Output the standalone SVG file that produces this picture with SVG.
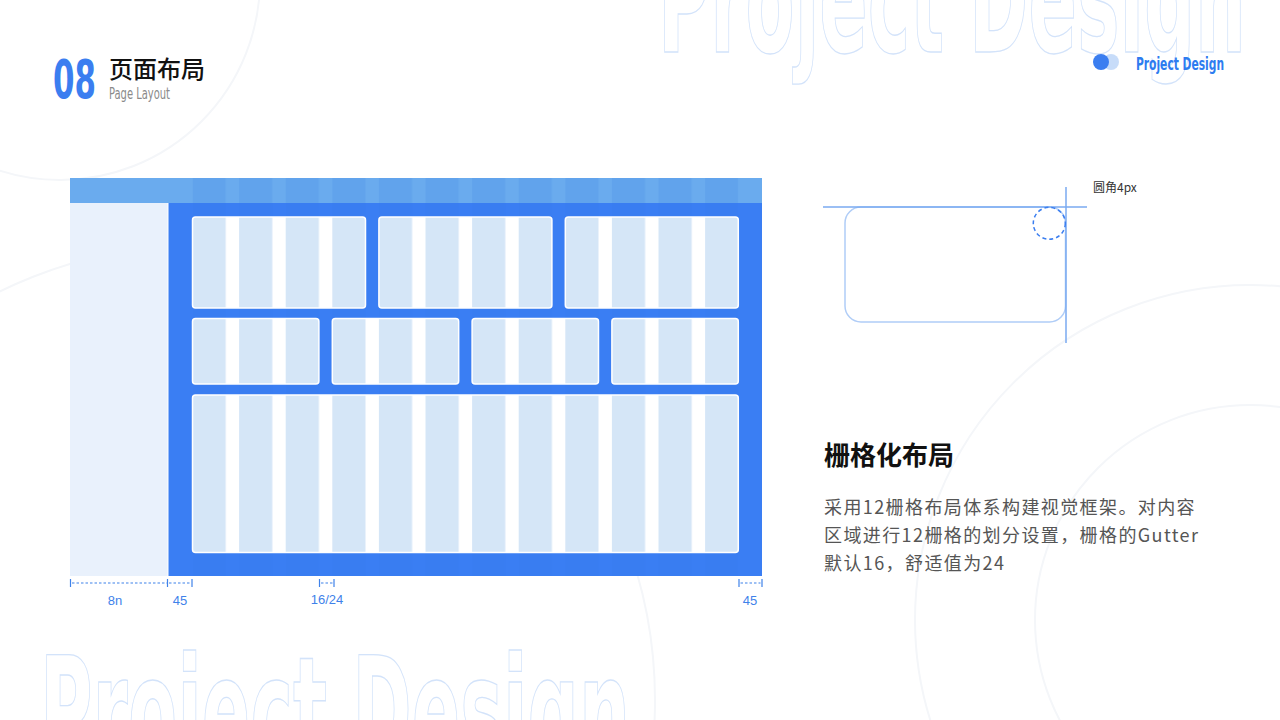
<svg xmlns="http://www.w3.org/2000/svg" width="1280" height="720" viewBox="0 0 1280 720">
<style>
.wm{font-family:"DejaVu Sans Condensed","DejaVu Sans",sans-serif;font-weight:bold;font-size:150px;fill:none;stroke:#d3e3fa;stroke-width:1.3}
.bgc{fill:none;stroke:#f4f6f9;stroke-width:2}
.cn{font-family:"Noto Sans CJK SC",sans-serif}
.dim{font-family:"Liberation Sans",Arial,sans-serif;font-size:13px;fill:#3f82ea;text-anchor:middle}
.tick{stroke:#3f82ea;stroke-width:1.2}
.dash{stroke:#3f82ea;stroke-width:1.2;stroke-dasharray:2.5 2}
.card{fill:url(#cols);stroke:#ffffff;stroke-width:1.5}
</style>
<defs>
<pattern id="cols" patternUnits="userSpaceOnUse" x="192.5" y="0" width="46.6" height="720">
<rect x="0" y="0" width="46.6" height="720" fill="#ffffff"/>
<rect x="0" y="0" width="33.2" height="720" fill="#d5e6f7"/>
</pattern>
<pattern id="barcols" patternUnits="userSpaceOnUse" x="192.5" y="0" width="46.6" height="720">
<rect x="0" y="0" width="33.2" height="720" fill="#4f95e6" fill-opacity="0.35"/>
</pattern>
<pattern id="bluecols" patternUnits="userSpaceOnUse" x="192.5" y="0" width="46.6" height="720">
<rect x="0" y="0" width="33.2" height="720" fill="#2f74e8" fill-opacity="0.12"/>
</pattern>
</defs>
<rect width="1280" height="720" fill="#ffffff"/>
<g id="background">
<circle class="bgc" cx="1250" cy="620" r="335"/>
<circle class="bgc" cx="1250" cy="620" r="215"/>
<circle class="bgc" cx="200" cy="700" r="455"/>
<circle class="bgc" cx="60" cy="-20" r="200"/>
<text class="wm" x="658" y="52" textLength="588" lengthAdjust="spacingAndGlyphs">Project Design</text>
<text class="wm" x="40" y="764" textLength="590" lengthAdjust="spacingAndGlyphs">Project Design</text>
</g>
<g id="header">
<text x="53" y="98" font-family="DejaVu Sans Condensed,DejaVu Sans,sans-serif" font-weight="bold" font-size="54" fill="#3b7ef0" textLength="43" lengthAdjust="spacingAndGlyphs">08</text>
<text class="cn" x="109" y="78" font-size="24" font-weight="500" fill="#111111">页面布局</text>
<text x="109" y="99" font-family="DejaVu Sans Condensed,DejaVu Sans,sans-serif" font-size="15" fill="#8a8a8a" textLength="61" lengthAdjust="spacingAndGlyphs">Page Layout</text>
</g>
<g id="brand">
<circle cx="1111" cy="62" r="8" fill="#b9d3f8" fill-opacity="0.8"/>
<circle cx="1101" cy="62" r="8" fill="#3b7ef0"/>
<text x="1136" y="70" font-family="DejaVu Sans Condensed,DejaVu Sans,sans-serif" font-weight="bold" font-size="17" fill="#2d7cf0" textLength="88" lengthAdjust="spacingAndGlyphs">Project Design</text>
</g>
<g id="grid-frame">
<rect x="70" y="178" width="692" height="25" fill="#6aabee"/>
<rect x="192.5" y="178" width="545.8" height="25" fill="url(#barcols)"/>
<rect x="70" y="203" width="98" height="373" fill="#e9f1fc"/>
<rect x="168" y="203" width="594" height="373" fill="#3a7ef3"/>
<rect x="192.5" y="203" width="545.8" height="373" fill="url(#bluecols)"/>
<line x1="168" y1="203" x2="168" y2="576" stroke="#ffffff" stroke-width="1"/>
</g>
<g id="row1">
<rect class="card" x="192.5" y="217" width="173" height="91" rx="3"/>
<rect class="card" x="378.9" y="217" width="173" height="91" rx="3"/>
<rect class="card" x="565.3" y="217" width="173" height="91" rx="3"/>
</g>
<g id="row2">
<rect class="card" x="192.5" y="318.5" width="126.4" height="65.5" rx="3"/>
<rect class="card" x="332.3" y="318.5" width="126.4" height="65.5" rx="3"/>
<rect class="card" x="472.1" y="318.5" width="126.4" height="65.5" rx="3"/>
<rect class="card" x="611.9" y="318.5" width="126.4" height="65.5" rx="3"/>
</g>
<g id="row3">
<rect class="card" x="192.5" y="395" width="545.8" height="157.5" rx="3"/>
</g>
<g id="dimensions">
<line class="tick" x1="70.5" y1="579" x2="70.5" y2="587"/>
<line class="dash" x1="72" y1="583" x2="167" y2="583"/>
<line class="tick" x1="167.5" y1="579" x2="167.5" y2="587"/>
<line class="dash" x1="169" y1="583" x2="191" y2="583"/>
<line class="tick" x1="192" y1="579" x2="192" y2="587"/>
<line class="tick" x1="319.5" y1="579" x2="319.5" y2="587"/>
<line class="dash" x1="321" y1="583" x2="333" y2="583"/>
<line class="tick" x1="334" y1="579" x2="334" y2="587"/>
<line class="tick" x1="739" y1="579" x2="739" y2="587"/>
<line class="dash" x1="740.5" y1="583" x2="760.5" y2="583"/>
<line class="tick" x1="762" y1="579" x2="762" y2="587"/>
<text class="dim" x="115" y="605">8n</text>
<text class="dim" x="180" y="605">45</text>
<text class="dim" x="327" y="604">16/24</text>
<text class="dim" x="750" y="605">45</text>
</g>
<g id="radius-demo">
<rect x="845" y="207" width="220.5" height="115" rx="16" fill="none" stroke="#b0cdf7" stroke-width="1.5"/>
<line x1="823" y1="207" x2="1087" y2="207" stroke="#7aaaf0" stroke-width="1.5"/>
<line x1="1066" y1="187" x2="1066" y2="343" stroke="#7aaaf0" stroke-width="1.5"/>
<circle cx="1049.3" cy="223.3" r="16" fill="none" stroke="#3b7ef0" stroke-width="1.5" stroke-dasharray="4 3"/>
<text class="cn" x="1093" y="192" font-size="12" fill="#333333">圆角4px</text>
</g>
<g id="description">
<text class="cn" x="824" y="465" font-size="26" font-weight="bold" fill="#111111">栅格化布局</text>
<text class="cn" font-size="18" fill="#555555" letter-spacing="1.4">
<tspan x="824" y="514">采用12栅格布局体系构建视觉框架。对内容</tspan>
<tspan x="824" y="542">区域进行12栅格的划分设置，栅格的Gutter</tspan>
<tspan x="824" y="570">默认16，舒适值为24</tspan>
</text>
</g>
</svg>
